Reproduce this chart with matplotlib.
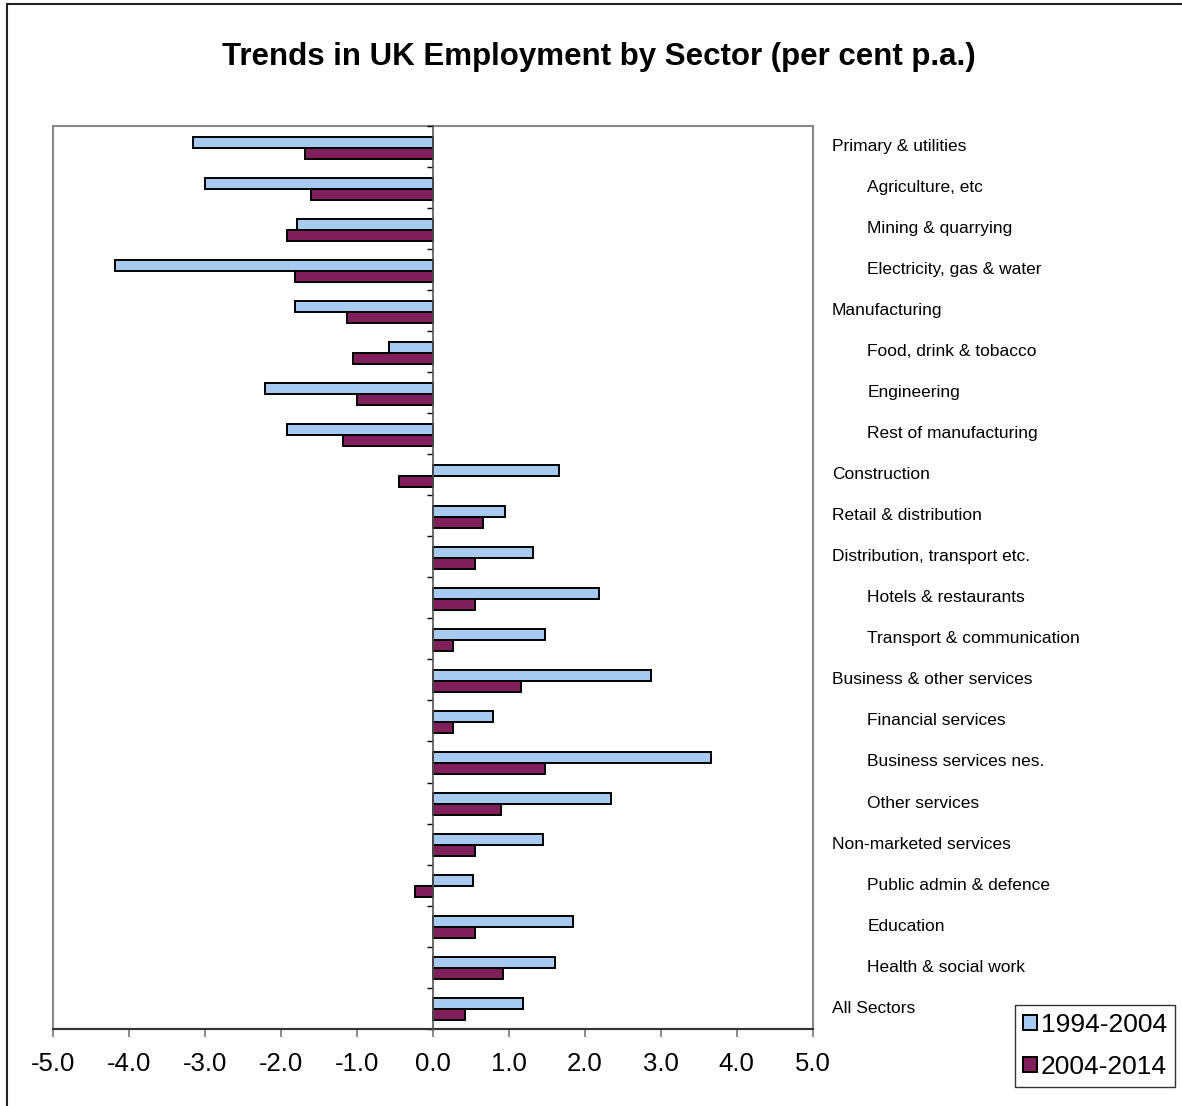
import matplotlib.pyplot as plt
import matplotlib.transforms as mtransforms
from matplotlib.patches import Rectangle
import numpy as np

plt.rcParams['font.family'] = ['Liberation Sans', 'DejaVu Sans']

sectors = [
    'Primary & utilities', 'Agriculture, etc', 'Mining & quarrying',
    'Electricity, gas & water', 'Manufacturing', 'Food, drink & tobacco',
    'Engineering', 'Rest of manufacturing', 'Construction',
    'Retail & distribution', 'Distribution, transport etc.',
    'Hotels & restaurants', 'Transport & communication',
    'Business & other services', 'Financial services',
    'Business services nes.', 'Other services', 'Non-marketed services',
    'Public admin & defence', 'Education', 'Health & social work',
    'All Sectors',
]
# sub-sectors are shown indented under their group
indented = [False, True, True, True, False, True, True, True, False,
            False, False, True, True, False, True, True, True, False,
            True, True, True, False]

growth_1994_2004 = [-3.16, -3.00, -1.79, -4.18, -1.81, -0.57, -2.21, -1.92,
                    1.66, 0.95, 1.32, 2.19, 1.48, 2.87, 0.79, 3.66, 2.35,
                    1.45, 0.53, 1.85, 1.61, 1.19]
growth_2004_2014 = [-1.68, -1.60, -1.92, -1.81, -1.13, -1.05, -1.00, -1.18,
                    -0.44, 0.66, 0.56, 0.56, 0.27, 1.16, 0.27, 1.48, 0.90,
                    0.56, -0.23, 0.56, 0.93, 0.43]

x_ticks = [-5, -4, -3, -2, -1, 0, 1, 2, 3, 4, 5]

W, H = 1182, 1106
fig = plt.figure(figsize=(W / 100, H / 100), dpi=100)
ax = fig.add_axes([52.7 / W, (H - 1028.7) / H, 760 / W, 902.7 / H])

y = np.arange(len(sectors))
bh = 0.27
ax.barh(y - 0.105, growth_1994_2004, height=bh, color='#A6CAF0',
        edgecolor='black', linewidth=1.4, label='1994-2004', zorder=3)
ax.barh(y + 0.165, growth_2004_2014, height=bh, color='#7F1F5C',
        edgecolor='black', linewidth=1.4, label='2004-2014', zorder=3)

ax.set_xlim(-5, 5)
ax.set_ylim(len(sectors) - 0.5, -0.5)

# category axis sits on zero, with ticks between the groups
for side in ['top', 'right']:
    ax.spines[side].set_visible(False)
ax.spines['left'].set_position(('data', 0))
ax.spines['left'].set_color('#555555')
ax.spines['left'].set_linewidth(1.2)
ax.spines['left'].set_zorder(4)
ax.set_yticks(np.arange(len(sectors) + 1) - 0.5)
ax.set_yticklabels([])
ax.tick_params(axis='y', direction='out', length=4, width=1.0, color='black')

ax.spines['bottom'].set_color('#333333')
ax.spines['bottom'].set_linewidth(1.5)
ax.set_xticks(x_ticks)
ax.set_xticklabels(['%.1f' % v for v in x_ticks], fontsize=18.5)
ax.tick_params(axis='x', direction='out', length=6, width=1.2, color='#777777',
               pad=11)

# grey plot-area frame
ax.add_patch(Rectangle((0, 0), 1, 1, transform=ax.transAxes, fill=False,
                       edgecolor='#888888', linewidth=1.5, clip_on=False,
                       zorder=1))

trans = mtransforms.blended_transform_factory(ax.transAxes, ax.transData)
for i, name in enumerate(sectors):
    xpos = 1.072 if indented[i] else 1.025
    ax.text(xpos, i, name, transform=trans, fontsize=12.5, va='center',
            ha='left')

fig.text(599 / W, 1 - 57 / H, 'Trends in UK Employment by Sector (per cent p.a.)',
         ha='center', va='center', fontsize=22.5, fontweight='bold')

leg = fig.legend(loc='lower left', bbox_to_anchor=(1015 / W, 19 / H),
                 fontsize=19, frameon=True, fancybox=False, borderaxespad=0,
                 handlelength=0.5, handleheight=0.5, handletextpad=0.15,
                 borderpad=0.32, labelspacing=0.66)
leg.get_frame().set_edgecolor('black')
leg.get_frame().set_linewidth(1.0)

# outer chart border
fig.patches.append(Rectangle((7 / W, -0.01), 1.02, 1 - 4 / H + 0.01,
                             transform=fig.transFigure, fill=False,
                             edgecolor='#222222', linewidth=1.5))

fig.savefig('out.png', dpi=100)
